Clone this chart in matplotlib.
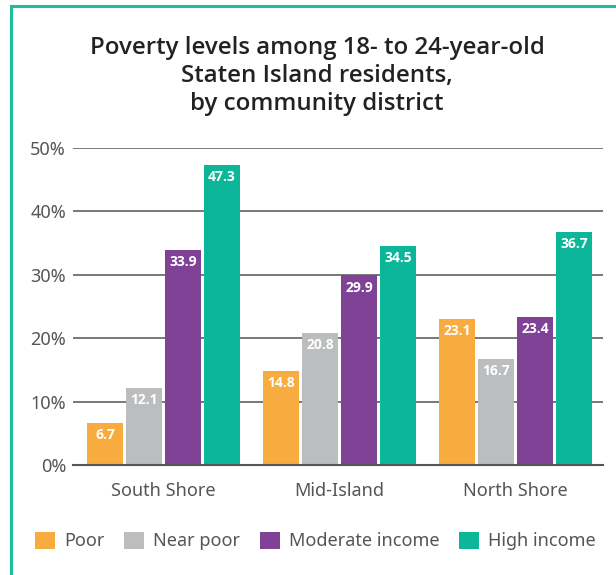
import matplotlib.pyplot as plt
import numpy as np
from matplotlib.patches import Patch, Rectangle

# 地区ごとの18〜24歳の貧困レベル
districts = ["South Shore", "Mid-Island", "North Shore"]
poor = [6.7, 14.8, 23.1]
near_poor = [12.1, 20.8, 16.7]
moderate = [33.9, 29.9, 23.4]
high = [47.3, 34.5, 36.7]
series_names = ["Poor", "Near poor", "Moderate income", "High income"]
y_ticks = [0, 10, 20, 30, 40, 50]

colors = ["#F8AC3F", "#BBBDBE", "#7F4296", "#0CB699"]
text_gray = "#555555"
plt.rcParams["font.family"] = ["Noto Sans", "DejaVu Sans"]

fig = plt.figure(figsize=(6.16, 5.75), dpi=100)
W, H = 616, 575

# 緑の枠（左と上だけ見える）
fig.patches.append(Rectangle((11 / W, -0.1), 1.2, 1 - 6 / H + 0.1, transform=fig.transFigure,
                             fill=False, edgecolor="#1DBE9C", linewidth=2.2))

fig.text(0.515, 1 - 76 / H, "Poverty levels among 18- to 24-year-old\nStaten Island residents,\nby community district",
         ha="center", va="center", fontsize=17.3, color="#222222", linespacing=1.25,
         family=["Open Sans", "DejaVu Sans"], fontweight="semibold")

ax = fig.add_axes([73 / W, 1 - 465 / H, 530 / W, 317 / H])
x = np.arange(len(districts))
slot = 39 / 176
width = 36 / 176
for i, vals in enumerate([poor, near_poor, moderate, high]):
    pos = x + (i - 1.5) * slot
    bars = ax.bar(pos, vals, width=width, color=colors[i], zorder=3)
    for b, v in zip(bars, vals):
        ax.text(b.get_x() + b.get_width() / 2, v - 0.8, f"{v}", ha="center", va="top",
                color="white", fontsize=10, fontweight="bold", zorder=4,
                family=["Open Sans", "DejaVu Sans"])

ax.set_xlim(-0.514, 2.497)
ax.set_ylim(0, 50)
ax.set_yticks(y_ticks)
ax.set_yticklabels([f"{t}%" for t in y_ticks])
ax.yaxis.grid(True, color="#6d6d6d", linewidth=1.3, zorder=0)
ax.set_axisbelow(True)
ax.set_xticks(x)
ax.set_xticklabels(districts)
ax.tick_params(axis="both", length=0, labelsize=13, colors=text_gray)
ax.tick_params(axis="x", pad=12)
ax.tick_params(axis="y", pad=5)
for s in ["top", "right", "left"]:
    ax.spines[s].set_visible(False)
ax.spines["bottom"].set_color("#555555")
ax.spines["bottom"].set_linewidth(1.5)
ax.spines["bottom"].set_zorder(5)

handles = [Patch(facecolor=c, edgecolor="none") for c in colors]
fig.legend(handles, series_names, loc="center", bbox_to_anchor=(0.512, 1 - 541 / H), ncol=4,
           frameon=False, fontsize=13, handlelength=1.1, handleheight=1.1, handletextpad=0.5,
           columnspacing=1.1, labelcolor=text_gray)

fig.savefig("out.png", dpi=100)
